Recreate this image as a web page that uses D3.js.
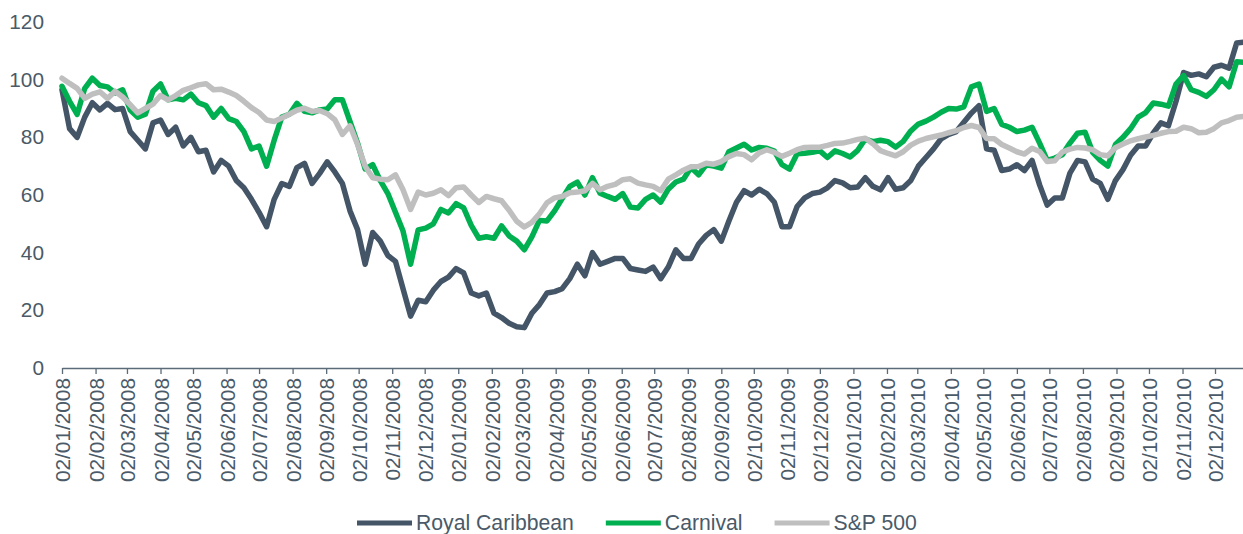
<!DOCTYPE html>
<html>
<head>
<meta charset="utf-8">
<script src="https://cdn.jsdelivr.net/npm/d3@7"></script>
<style>
  body { margin: 0; background: #fff; }
  svg { display: block; font-family: "Liberation Sans", Arial, sans-serif; }
  .axis text { fill: #4a5a68; font-size: 20.8px; }
  .axis path, .axis line { stroke: #5b6b78; stroke-width: 1.3px; }
  .legend text { fill: #4a5a68; font-size: 21.2px; }
  .series { fill: none; stroke-width: 5.5px; stroke-linejoin: round; stroke-linecap: round; }
</style>
</head>
<body>
<svg id="chart"></svg>
<script>
// weekly observations (index base 100 at 02/01/2008)
const weeks = [
  '2008-01-02','2008-01-09','2008-01-16','2008-01-23','2008-01-30','2008-02-06','2008-02-13','2008-02-20','2008-02-27',
  '2008-03-05','2008-03-12','2008-03-19','2008-03-26','2008-04-02','2008-04-09','2008-04-16','2008-04-23','2008-04-30',
  '2008-05-07','2008-05-14','2008-05-21','2008-05-28','2008-06-04','2008-06-11','2008-06-18','2008-06-25','2008-07-02',
  '2008-07-09','2008-07-16','2008-07-23','2008-07-30','2008-08-06','2008-08-13','2008-08-20','2008-08-27','2008-09-03',
  '2008-09-10','2008-09-17','2008-09-24','2008-10-01','2008-10-08','2008-10-15','2008-10-22','2008-10-29','2008-11-05',
  '2008-11-12','2008-11-19','2008-11-26','2008-12-03','2008-12-10','2008-12-17','2008-12-24','2008-12-31',
  '2009-01-07','2009-01-14','2009-01-21','2009-01-28','2009-02-04','2009-02-11','2009-02-18','2009-02-25','2009-03-04',
  '2009-03-11','2009-03-18','2009-03-25','2009-04-01','2009-04-08','2009-04-15','2009-04-22','2009-04-29','2009-05-06',
  '2009-05-13','2009-05-20','2009-05-27','2009-06-03','2009-06-10','2009-06-17','2009-06-24','2009-07-01','2009-07-08',
  '2009-07-15','2009-07-22','2009-07-29','2009-08-05','2009-08-12','2009-08-19','2009-08-26','2009-09-02','2009-09-09',
  '2009-09-16','2009-09-23','2009-09-30','2009-10-07','2009-10-14','2009-10-21','2009-10-28','2009-11-04','2009-11-11',
  '2009-11-18','2009-11-25','2009-12-02','2009-12-09','2009-12-16','2009-12-23','2009-12-30',
  '2010-01-06','2010-01-13','2010-01-20','2010-01-27','2010-02-03','2010-02-10','2010-02-17','2010-02-24','2010-03-03',
  '2010-03-10','2010-03-17','2010-03-24','2010-03-31','2010-04-07','2010-04-14','2010-04-21','2010-04-28','2010-05-05',
  '2010-05-12','2010-05-19','2010-05-26','2010-06-02','2010-06-09','2010-06-16','2010-06-23','2010-06-30','2010-07-07',
  '2010-07-14','2010-07-21','2010-07-28','2010-08-04','2010-08-11','2010-08-18','2010-08-25','2010-09-01','2010-09-08',
  '2010-09-15','2010-09-22','2010-09-29','2010-10-06','2010-10-13','2010-10-20','2010-10-27','2010-11-03','2010-11-10',
  '2010-11-17','2010-11-24','2010-12-01','2010-12-08','2010-12-15','2010-12-22','2010-12-29'
];

const royalCaribbean = [
  96.5, 83, 80, 87, 92, 89.5, 91.8, 89.6, 90, 82,
  79, 76, 85, 86, 81, 83.5, 77, 80, 75, 75.5,
  68, 72, 70, 65, 62.5, 58.5, 54, 49, 58.5, 64,
  63, 69.5, 71, 64, 67.5, 71.5, 68, 64, 54.5, 48,
  36, 47, 44, 39, 37, 27.5, 18, 23.5, 23, 27,
  30, 31.5, 34.5, 33, 26, 25, 26, 19, 17.5, 15.5,
  14.3, 14, 19, 22, 26, 26.5, 27.5, 31, 36, 32,
  40, 36, 37, 38, 38, 34.5, 34, 33.5, 35, 31,
  35, 41, 38, 38, 43, 46, 48, 44, 51, 57.5,
  61.5, 60, 62, 60.5, 57.5, 49, 49, 56, 59, 60.5,
  61, 62.5, 65, 64.2, 62.5, 62.8, 66, 63, 61.8, 66,
  62, 62.5, 65, 70, 73, 76, 79.5, 81, 82, 85.2,
  88.4, 91, 76, 75.5, 68.5, 69, 70.5, 68.5, 72, 63.5,
  56.5, 59, 59, 67.6, 72, 71.5, 65.5, 64, 58.5, 65,
  68.8, 73.8, 77, 77, 81.5, 85, 84, 92.5, 102.5, 101.5,
  102, 101, 104.3, 105, 104, 112.7, 113
];

const carnival = [
  97.7, 92.5, 88, 97, 100.5, 98, 97.5, 95.4, 96.5, 89.5,
  87, 88, 96, 98.5, 93, 93.5, 93, 95, 92, 91,
  87, 90, 86.5, 85.5, 82, 76, 77, 70, 79, 87,
  88, 91.8, 89, 88.5, 89.5, 89.8, 93, 93, 85.5, 78,
  69, 70.5, 65, 60.5, 54, 47.5, 36, 47.9, 48.5, 50,
  55, 53.8, 57, 55.5, 49.5, 45, 45.5, 45, 49.3, 45.8,
  44, 41, 45.5, 51.2, 51, 54.5, 58.8, 63, 64.5, 60,
  66, 60.6, 59.5, 58.5, 60.5, 55.8, 55.5, 58.5, 60, 57.5,
  62, 64.5, 65.5, 69.5, 67, 70.5, 70, 69.3, 75, 76.3,
  77.6, 75.6, 76.5, 76.2, 75.2, 70.5, 69, 74.3, 74.5, 74.8,
  75.3, 73, 75.3, 74.4, 73.2, 75.5, 79.4, 78.5, 79, 78.5,
  76.6, 78.6, 82.2, 84.6, 85.6, 87, 88.7, 90, 89.8, 90.6,
  97.5, 98.5, 89, 90, 84.5, 83.5, 82, 82.5, 83.5, 78,
  72, 72.8, 74, 78, 81.4, 81.8, 74.8, 72, 70, 77.5,
  80, 83, 87, 88.6, 91.9, 91.5, 90.8, 98.5, 101.4, 96.5,
  95.6, 94.2, 96.5, 100.2, 97.5, 106.2, 106
];

const sp500 = [
  100.5, 98.7, 97, 93.5, 95, 95.8, 93.5, 96, 94, 91.3,
  88.5, 90, 91.5, 94.5, 93, 94.5, 96.3, 97.2, 98.2, 98.6,
  96.5, 96.7, 95.7, 94.5, 92.5, 90.3, 88.6, 86, 85.5, 86.7,
  88, 89.4, 90.1, 89, 89.3, 88.2, 86.1, 81, 84, 77.5,
  70, 66, 65.5, 65.3, 67, 61.8, 55, 61, 60, 60.6,
  61.8, 59.8, 62.5, 62.8, 60, 57.4, 59.5, 58.7, 58, 54.7,
  50.9, 48.9, 50.5, 53.5, 57.3, 59, 59.5, 60.8, 61, 61.5,
  64, 61.8, 63, 63.7, 65.3, 65.6, 64.1, 63.5, 63, 61.5,
  65.5, 67, 68.6, 69.8, 69.9, 71, 70.7, 71.6, 73.3, 74.4,
  74, 72.2, 74.6, 75.7, 74.8, 73.4, 74.5, 75.7, 76.5, 76.6,
  76.6, 77.2, 77.9, 78, 78.6, 79.3, 79.7, 77.8, 75.4, 74.4,
  73.6, 75, 77.3, 78.7, 79.6, 80.2, 80.8, 81.6, 82.3, 83.4,
  84.1, 83.4, 79.6, 79.5, 77.5, 76.3, 75, 74.2, 76.2, 75.1,
  71.6, 71.9, 74.9, 75.9, 76.5, 76.3, 75.7, 74, 73.6, 76.4,
  77.7, 78.8, 79.5, 80.1, 80.7, 81.4, 82, 82.1, 83.5, 83,
  81.6, 81.8, 83, 85, 85.8, 87, 87.3
];

const tickLabels = [
  '02/01/2008','02/02/2008','02/03/2008','02/04/2008','02/05/2008','02/06/2008',
  '02/07/2008','02/08/2008','02/09/2008','02/10/2008','02/11/2008','02/12/2008',
  '02/01/2009','02/02/2009','02/03/2009','02/04/2009','02/05/2009','02/06/2009',
  '02/07/2009','02/08/2009','02/09/2009','02/10/2009','02/11/2009','02/12/2009',
  '02/01/2010','02/02/2010','02/03/2010','02/04/2010','02/05/2010','02/06/2010',
  '02/07/2010','02/08/2010','02/09/2010','02/10/2010','02/11/2010','02/12/2010'
];

const yTicks = [0, 20, 40, 60, 80, 100, 120];
const seriesNames = ['Royal Caribbean', 'Carnival', 'S&P 500'];

class LineChart {
  constructor(_config, _data) {
    this.config = {
      parentElement: _config.parentElement,
      containerWidth: _config.containerWidth || 1243,
      containerHeight: _config.containerHeight || 534,
      margin: _config.margin || { top: 22, right: 0, bottom: 166, left: 62 },
      colors: _config.colors
    };
    this.data = _data;
    this.initVis();
  }

  initVis() {
    let vis = this;

    vis.width = 1184.4;
    vis.height = vis.config.containerHeight - vis.config.margin.top - vis.config.margin.bottom;

    vis.parseWeek = d3.utcParse('%Y-%m-%d');
    vis.parseTick = d3.utcParse('%d/%m/%Y');

    vis.xScale = d3.scaleUtc()
      .domain([vis.parseWeek('2008-01-02'), vis.parseWeek('2010-12-31')])
      .range([0, vis.width]);

    vis.yScale = d3.scaleLinear()
      .domain([0, 120])
      .range([vis.height, 0]);

    vis.xAxis = d3.axisBottom(vis.xScale)
      .tickValues(tickLabels.map(vis.parseTick))
      .tickFormat(d3.utcFormat('%d/%m/%Y'))
      .tickSizeInner(6)
      .tickSizeOuter(0);

    vis.yAxis = d3.axisLeft(vis.yScale)
      .tickValues(yTicks)
      .tickSize(0)
      .tickPadding(18);

    vis.svg = d3.select(vis.config.parentElement)
      .attr('width', vis.config.containerWidth)
      .attr('height', vis.config.containerHeight);

    vis.chart = vis.svg.append('g')
      .attr('transform', `translate(${vis.config.margin.left},${vis.config.margin.top})`);

    vis.xAxisG = vis.chart.append('g')
      .attr('class', 'axis x-axis')
      .attr('transform', `translate(0,${vis.height})`);

    vis.yAxisG = vis.chart.append('g')
      .attr('class', 'axis y-axis');

    vis.legend = vis.svg.append('g')
      .attr('class', 'legend')
      .attr('transform', 'translate(357,523)');
  }

  updateVis() {
    let vis = this;
    vis.xValue = (d, i) => vis.parseWeek(weeks[i]);
    vis.line = d3.line()
      .x((d, i) => vis.xScale(vis.xValue(d, i)))
      .y(d => vis.yScale(d));
    vis.renderVis();
  }

  renderVis() {
    let vis = this;

    vis.xAxisG.call(vis.xAxis)
      .selectAll('text')
      .attr('transform', 'rotate(-90)')
      .attr('text-anchor', 'end')
      .attr('x', -10)
      .attr('y', 0)
      .attr('dy', '0.36em');

    vis.yAxisG.call(vis.yAxis)
      .call(g => g.select('.domain').remove())
      .selectAll('text')
      .attr('text-anchor', 'end');

    // series, first one drawn at the bottom
    vis.chart.selectAll('.series')
      .data(vis.data)
      .join('path')
      .attr('class', 'series')
      .attr('stroke', (d, i) => vis.config.colors[i])
      .attr('d', d => vis.line(d.values));

    // legend laid out from text widths
    let xPos = 0;
    vis.data.forEach((s, i) => {
      const item = vis.legend.append('g').attr('transform', `translate(${xPos},0)`);
      item.append('line')
        .attr('x1', 0).attr('x2', 55)
        .attr('y1', 0).attr('y2', 0)
        .attr('stroke', vis.config.colors[i])
        .attr('stroke-width', 5);
      const txt = item.append('text')
        .attr('x', 59)
        .attr('dy', '0.35em')
        .text(s.name);
      xPos += 59 + txt.node().getComputedTextLength() + 32;
    });
  }
}

const chartData = [
  { name: seriesNames[0], values: royalCaribbean },
  { name: seriesNames[1], values: carnival },
  { name: seriesNames[2], values: sp500 }
];

const chart = new LineChart({
  parentElement: '#chart',
  colors: ['#435566', '#00b050', '#bfbfbf']
}, chartData);
chart.updateVis();
</script>
</body>
</html>
